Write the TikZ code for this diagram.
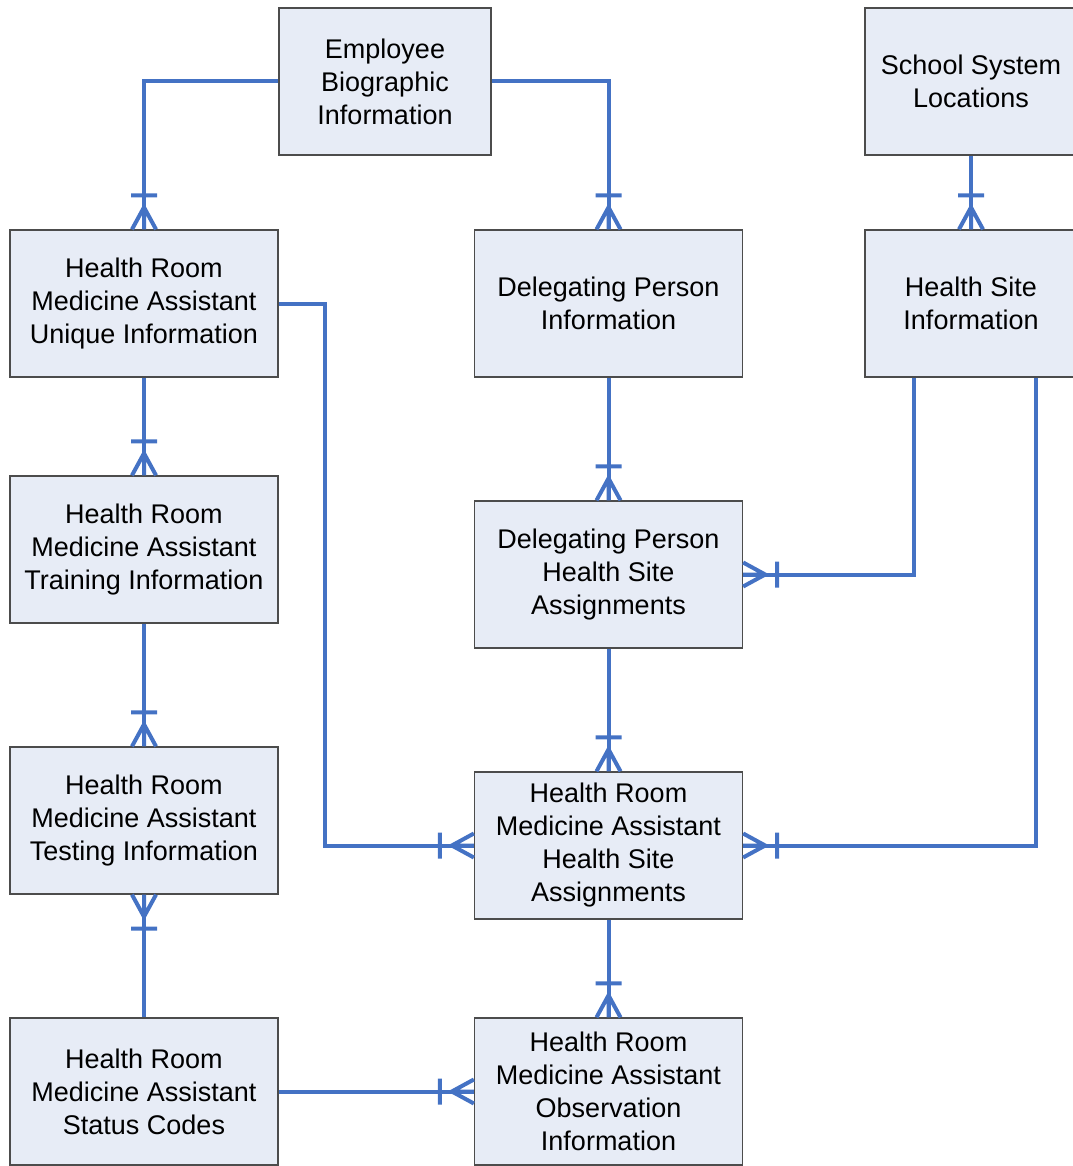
\documentclass[tikz,border=0pt]{standalone}
\usepackage{fontspec}
\setmainfont{Liberation Sans}
\usetikzlibrary{calc}
\definecolor{linkblue}{RGB}{68,114,196}
\definecolor{boxfill}{RGB}{231,236,246}
\tikzset{
  entity/.style={draw=black!70, line width=1pt, fill=boxfill, align=center, inner sep=0pt,
    minimum width=201pt, minimum height=110.25pt, font=\fontsize{20.25pt}{24.75pt}\selectfont},
  smallentity/.style={entity, minimum width=159pt},
  link/.style={draw=linkblue, line width=3pt},
  crowfoot/.pic={\draw[link] (0,-12) -- (-22,0) -- (0,12) (-22,0) -- (0,0) (-34,-13) -- (-34,13);}
}
\begin{document}
\begin{tikzpicture}[x=0.75pt,y=-0.75pt]
 \useasboundingbox (0,0) rectangle (1073,1166);
 % tables
 \node[smallentity] (employee) at (385,81.5) {Employee\\Biographic\\Information};
 \node[smallentity] (schools) at (971,81.5) {School System\\Locations};
 \node[entity] (unique) at (144,303.5) {Health Room\\Medicine Assistant\\Unique Information};
 \node[entity] (delegate) at (608.5,303.5) {Delegating Person\\Information};
 \node[smallentity] (site) at (971,303.5) {Health Site\\Information};
 \node[entity] (training) at (144,549.5) {Health Room\\Medicine Assistant\\Training Information};
 \node[entity] (delsite) at (608.5,574.5) {Delegating Person\\Health Site\\Assignments};
 \node[entity] (testing) at (144,820.5) {Health Room\\Medicine Assistant\\Testing Information};
 \node[entity] (masite) at (608.5,845.5) {Health Room\\Medicine Assistant\\Health Site\\Assignments};
 \node[entity] (status) at (144,1091.5) {Health Room\\Medicine Assistant\\Status Codes};
 \node[entity] (observe) at (608.5,1091.5) {Health Room\\Medicine Assistant\\Observation\\Information};
 % relationships
 \draw[link] (employee.west) -| (unique.north);
 \draw[link] (employee.east) -| (delegate.north);
 \draw[link] (schools.south) -- (site.north);
 \draw[link] (unique.south) -- (training.north);
 \draw[link] (training.south) -- (testing.north);
 \draw[link] (status.north) -- (testing.south);
 \draw[link] (unique.east) -- ++(46,0) |- (masite.west);
 \draw[link] (delegate.south) -- (delsite.north);
 \draw[link] ($(site.south)+(-57,0)$) |- (delsite.east);
 \draw[link] (delsite.south) -- (masite.north);
 \draw[link] ($(site.south)+(65,0)$) |- (masite.east);
 \draw[link] (masite.south) -- (observe.north);
 \draw[link] (status.east) -- (observe.west);
 % many ends
 \foreach \p in {unique,delegate,site,training,delsite,testing,masite,observe} {
  \pic[rotate=-90] at (\p.north) {crowfoot};
 }
 \pic[rotate=90] at (testing.south) {crowfoot};
 \pic at (masite.west) {crowfoot};
 \pic at (observe.west) {crowfoot};
 \pic[rotate=180] at (delsite.east) {crowfoot};
 \pic[rotate=180] at (masite.east) {crowfoot};
\end{tikzpicture}
\end{document}
